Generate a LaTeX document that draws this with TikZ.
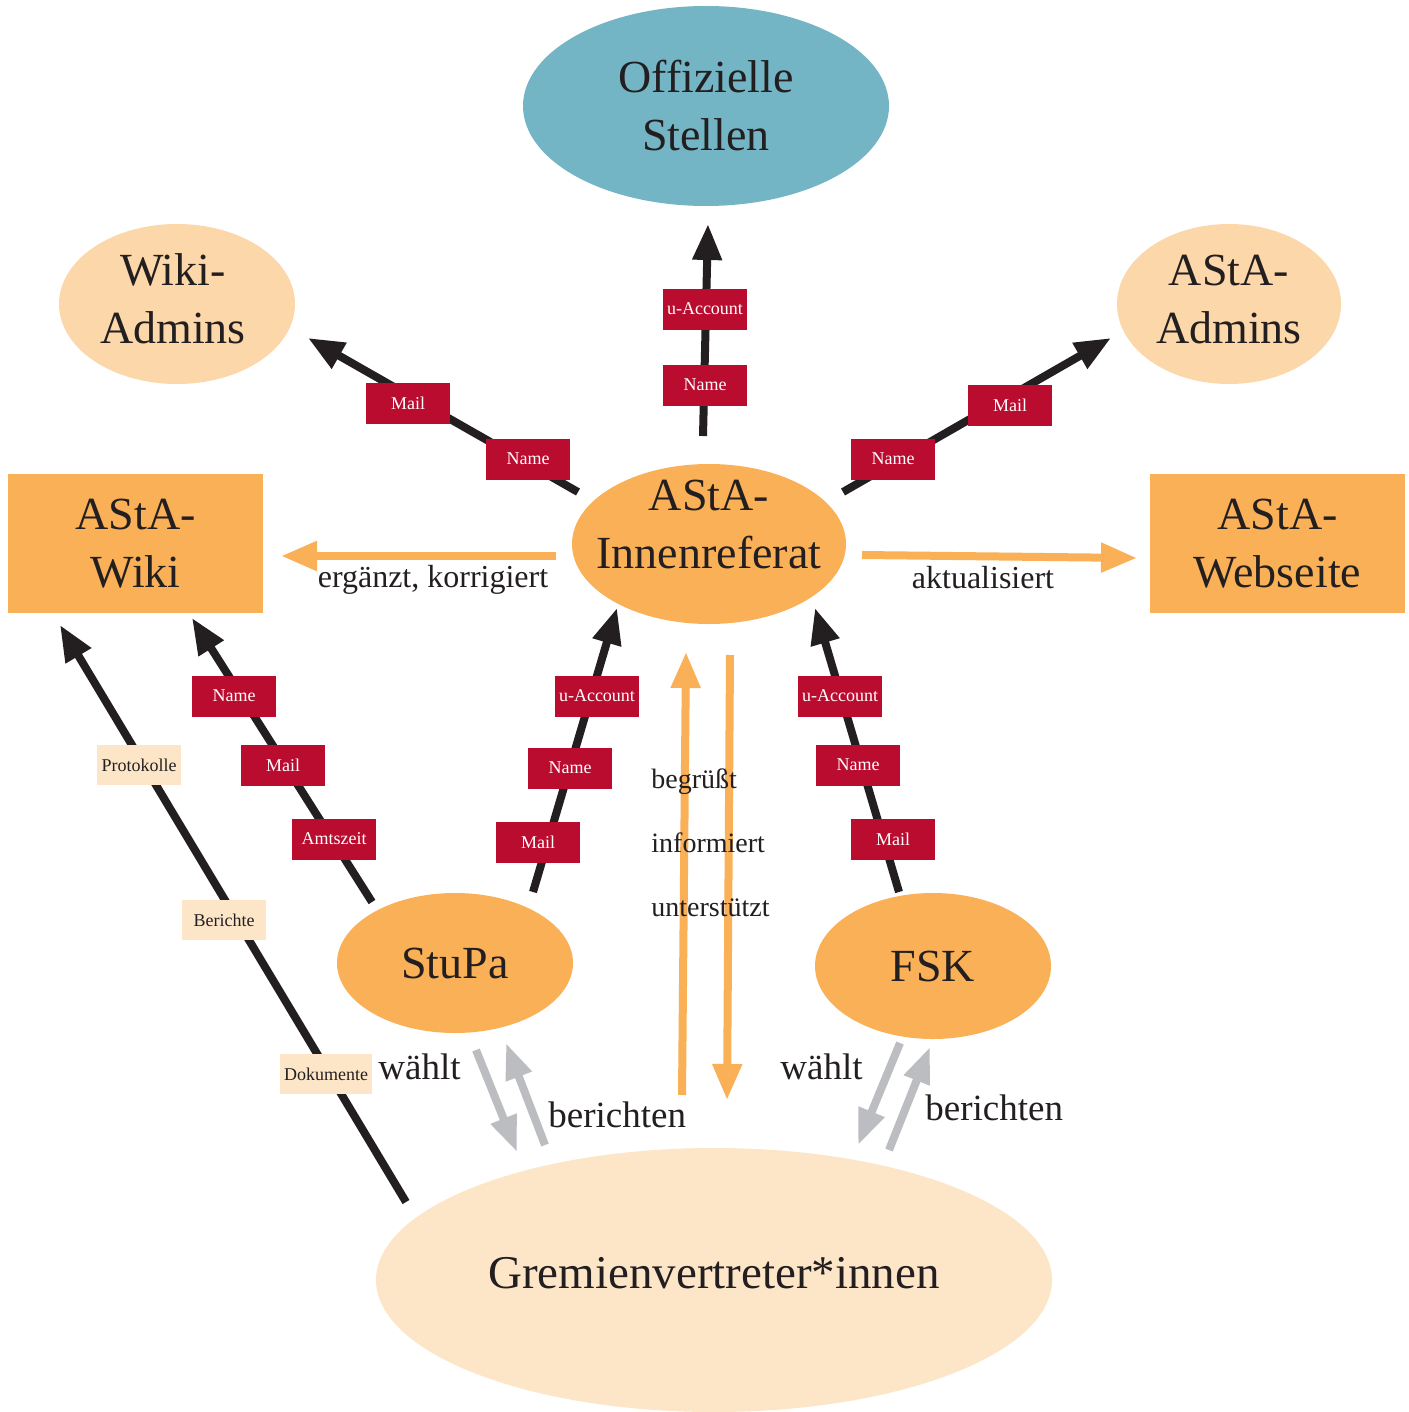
\documentclass[tikz,border=0pt]{standalone}
\usepackage{fontspec}
\setmainfont{Liberation Serif}
\usetikzlibrary{arrows.meta,shapes.geometric}
\definecolor{cyanC}{HTML}{73B5C4}
\definecolor{orangeC}{HTML}{F9B057}
\definecolor{lightC}{HTML}{FCD7A9}
\definecolor{paleC}{HTML}{FDE6C8}
\definecolor{redC}{HTML}{BA0C2F}
\definecolor{grayC}{HTML}{BCBDC0}
\definecolor{txtC}{HTML}{231F20}
\begin{document}
\begin{tikzpicture}[x=0.5pt,y=-0.5pt,
  ell/.style={ellipse,inner sep=0pt,text=txtC,align=center,font=\fontsize{23}{29}\selectfont},
  bigtxt/.style={inner sep=0pt,text=txtC,align=center,font=\fontsize{23}{29}\selectfont},
  rbox/.style={rectangle,inner sep=0pt,text=txtC,align=center,fill=orangeC,font=\fontsize{23}{29}\selectfont,minimum width=127.5pt,minimum height=69.5pt},
  redlab/.style={rectangle,fill=redC,text=white,minimum width=42pt,minimum height=20.5pt,inner xsep=1pt,inner ysep=0pt,font=\fontsize{9}{10}\selectfont},
  palelab/.style={rectangle,fill=paleC,text=txtC,minimum width=42pt,minimum height=20pt,inner xsep=2pt,inner ysep=0pt,font=\fontsize{9}{10}\selectfont},
  lbl/.style={text=txtC,inner sep=0pt},
  blk/.style={draw=txtC,line width=4pt,-{Triangle[length=18pt,width=14pt]}},
  org/.style={draw=orangeC,line width=4pt,-{Triangle[length=18pt,width=14pt]}},
  gry/.style={draw=grayC,line width=4pt,-{Triangle[length=18pt,width=13pt]}},
]
\useasboundingbox (0,0) rectangle (1408,1412);
\fill[white] (0,0) rectangle (1408,1412);

% nodes
\node[ell,fill=cyanC,minimum width=183pt,minimum height=100pt] (off) at (706,106) {Offizielle\\Stellen};
\node[ell,fill=lightC,minimum width=118pt,minimum height=80pt] (wadm) at (177,304) {};
\node[bigtxt] (wadmT) at (173,299) {Wiki-\\Admins};
\node[ell,fill=lightC,minimum width=112pt,minimum height=80pt] (aadm) at (1229,304) {};
\node[bigtxt] (aadmT) at (1229,299) {AStA-\\Admins};
\node[rbox] (wiki) at (135.5,543.5) {AStA-\\Wiki};
\node[rbox] (web) at (1277.5,543.5) {AStA-\\Webseite};
\node[ell,fill=orangeC,minimum width=137pt,minimum height=80pt] (inn) at (709,544) {};
\node[bigtxt] (innT) at (709,524) {AStA-\\Innenreferat};
\node[ell,fill=orangeC,minimum width=118pt,minimum height=70pt] (stupa) at (455,963) {StuPa};
\node[ell,fill=orangeC,minimum width=118pt,minimum height=73pt] (fsk) at (933,966) {FSK};
\node[ell,fill=paleC,minimum width=338pt,minimum height=132pt] (grem) at (714,1280) {};
\node[bigtxt,font=\fontsize{23.5}{29}\selectfont] (gremT) at (714,1273) {Gremienvertreter*innen};

% connector end points
\coordinate (innN) at (703,436);   \coordinate (offS) at (708,224);
\coordinate (innNW) at (578,492);  \coordinate (wadmSE) at (308,338);
\coordinate (innNE) at (843,492);  \coordinate (aadmSW) at (1111,338);
\coordinate (stupaNE) at (533,892); \coordinate (innSW) at (617,608);
\coordinate (fskNW) at (899,892);  \coordinate (innSE) at (815,608);
\coordinate (stupaNW) at (372,902); \coordinate (wikiS) at (192,618);
\coordinate (gremNW) at (406,1202); \coordinate (wikiSW) at (60,625);
\coordinate (innW) at (556,556);   \coordinate (wikiE) at (281,556);
\coordinate (innE) at (862,555);   \coordinate (webW) at (1137,558);
\coordinate (gremN1) at (682,1095); \coordinate (innS1) at (686,652);
\coordinate (innS2) at (730,655);  \coordinate (gremN2) at (727,1100);
\coordinate (stupaS1) at (476,1050); \coordinate (gremA) at (517,1152);
\coordinate (gremB) at (545,1145); \coordinate (stupaS2) at (506,1043);
\coordinate (fskS1) at (900,1043); \coordinate (gremC) at (858,1145);
\coordinate (gremD) at (889,1150); \coordinate (fskS2) at (930,1047);

% black connectors
\draw[blk] (innN) -- (offS);
\draw[blk] (innNW) -- (wadmSE);
\draw[blk] (innNE) -- (aadmSW);
\draw[blk] (stupaNE) -- (innSW);
\draw[blk] (fskNW) -- (innSE);
\draw[blk] (stupaNW) -- (wikiS);
\draw[blk] (gremNW) -- (wikiSW);

% orange connectors
\draw[org] (innW) -- (wikiE);
\draw[org] (innE) -- (webW);
\draw[org] (gremN1) -- (innS1);
\draw[org] (innS2) -- (gremN2);

% gray connectors
\draw[gry] (stupaS1) -- (gremA);
\draw[gry] (gremB) -- (stupaS2);
\draw[gry] (fskS1) -- (gremC);
\draw[gry] (gremD) -- (fskS2);

% red labels
\node[redlab] (l1) at (705,309) {u-Account};
\node[redlab] (l2) at (705,385) {Name};
\node[redlab] (l3) at (408,403) {Mail};
\node[redlab] (l4) at (528,459) {Name};
\node[redlab] (l5) at (893,459) {Name};
\node[redlab] (l6) at (1010,405) {Mail};
\node[redlab] (l7) at (597,696) {u-Account};
\node[redlab] (l8) at (570,768) {Name};
\node[redlab] (l9) at (538,842) {Mail};
\node[redlab] (l10) at (840,696) {u-Account};
\node[redlab] (l11) at (858,765) {Name};
\node[redlab] (l12) at (893,839) {Mail};
\node[redlab] (l13) at (234,696) {Name};
\node[redlab] (l14) at (283,765) {Mail};
\node[redlab] (l15) at (334,839) {Amtszeit};

% pale labels
\node[palelab] (p1) at (139,765) {Protokolle};
\node[palelab] (p2) at (224,920) {Berichte};
\node[palelab] (p3) at (326,1074) {Dokumente};

% text labels
\node[lbl,font=\fontsize{16}{18}\selectfont] (t1) at (433,580) {ergänzt, korrigiert};
\node[lbl,font=\fontsize{16}{18}\selectfont] (t2) at (983,578) {aktualisiert};
\node[lbl,anchor=base west,font=\fontsize{14}{16}\selectfont] (t3) at (651,788) {begrüßt};
\node[lbl,anchor=base west,font=\fontsize{14}{16}\selectfont] (t4) at (651,852) {informiert};
\node[lbl,anchor=base west,font=\fontsize{14}{16}\selectfont] (t5) at (651,916) {unterstützt};
\node[lbl,anchor=base west,font=\fontsize{18.5}{20}\selectfont] (t6) at (378,1079) {wählt};
\node[lbl,anchor=base west,font=\fontsize{18.5}{20}\selectfont] (t7) at (548,1127) {berichten};
\node[lbl,anchor=base west,font=\fontsize{18.5}{20}\selectfont] (t8) at (780,1079) {wählt};
\node[lbl,anchor=base west,font=\fontsize{18.5}{20}\selectfont] (t9) at (925,1120) {berichten};
\end{tikzpicture}
\end{document}
